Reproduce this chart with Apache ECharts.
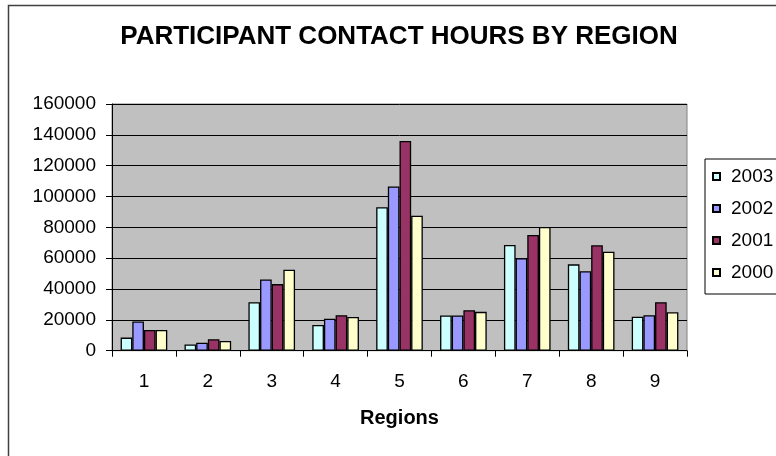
<!DOCTYPE html>
<html>
<head>
<meta charset="utf-8">
<script src="https://cdn.jsdelivr.net/npm/echarts@6/dist/echarts.min.js"></script>
<style>
html,body{margin:0;padding:0;background:#fff;}
#chart{width:776px;height:456px;}
</style>
</head>
<body>
<div id="chart"></div>
<script>
const regions = ['1','2','3','4','5','6','7','8','9'];
const seriesNames = ['2003','2002','2001','2000'];
const v2003 = [8500, 4000, 31500, 16700, 93000, 22800, 68600, 56000, 22000];
const v2002 = [19000, 5200, 46200, 20800, 106500, 22800, 60000, 51500, 23000];
const v2001 = [13500, 7400, 43200, 23000, 136000, 26300, 75000, 68400, 31500];
const v2000 = [13500, 6300, 52500, 21900, 87500, 25200, 80200, 64200, 25000];
const colors = ['#CCFFFF', '#9999FF', '#993366', '#FFFFCC'];
const allValues = [v2003, v2002, v2001, v2000];

const FONT = 'Liberation Sans, Arial, sans-serif';
const chart = echarts.init(document.getElementById('chart'), null, {renderer: 'canvas'});

chart.setOption({
  animation: false,
  backgroundColor: '#ffffff',
  textStyle: {fontFamily: FONT},
  title: {
    text: 'PARTICIPANT CONTACT HOURS BY REGION',
    left: 399,
    top: 24,
    textAlign: 'center',
    padding: 0,
    textStyle: {fontFamily: FONT, fontSize: 26, fontWeight: 'bold', color: '#000'}
  },
  graphic: [{
    type: 'rect',
    shape: {x: 8.5, y: 5.5, width: 800, height: 500},
    style: {fill: 'none', stroke: '#404040', lineWidth: 1.5},
    silent: true
  }],
  legend: {
    data: seriesNames,
    orient: 'vertical',
    left: 705,
    top: 159,
    padding: [8, 40, 12, 7],
    itemWidth: 7,
    itemHeight: 7,
    itemGap: 13,
    icon: 'rect',
    backgroundColor: '#fff',
    borderColor: '#000',
    borderWidth: 1,
    textStyle: {fontFamily: FONT, fontSize: 19, lineHeight: 19, color: '#000', padding: [0, 0, 0, 6]}
  },
  grid: {
    left: 112, right: 89, top: 104, bottom: 105.3,
    show: true,
    backgroundColor: '#C0C0C0',
    borderColor: '#808080',
    borderWidth: 1
  },
  xAxis: {
    type: 'category',
    data: regions,
    boundaryGap: true,
    name: 'Regions',
    nameLocation: 'middle',
    nameGap: 58,
    nameTextStyle: {fontFamily: FONT, fontSize: 20, fontWeight: 'bold', color: '#000'},
    axisLine: {lineStyle: {color: '#000', width: 1}},
    axisTick: {show: true, interval: 0, length: 6, lineStyle: {color: '#000'}},
    axisLabel: {fontFamily: FONT, fontSize: 19, color: '#000', margin: 22, interval: 0},
    splitLine: {show: false}
  },
  yAxis: {
    type: 'value',
    min: 0,
    max: 160000,
    interval: 20000,
    axisLine: {show: true, lineStyle: {color: '#000', width: 1}},
    axisTick: {show: true, length: 6, lineStyle: {color: '#000'}},
    axisLabel: {fontFamily: FONT, fontSize: 19, color: '#000', margin: 16, formatter: v => String(v)},
    splitLine: {show: true, lineStyle: {color: '#000', width: 1}}
  },
  series: seriesNames.map((n, i) => ({
    name: n,
    type: 'bar',
    data: allValues[i],
    barGap: '0%',
    barCategoryGap: '27%',
    itemStyle: {color: colors[i], borderColor: '#000', borderWidth: 1.3}
  }))
});
</script>
</body>
</html>
